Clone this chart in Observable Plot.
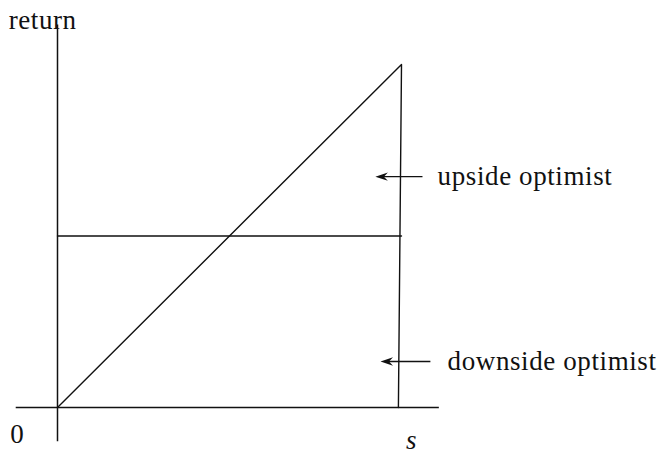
<!DOCTYPE html>
<html>
<head>
<meta charset="utf-8">
<script src="https://cdn.jsdelivr.net/npm/d3@7"></script>
<script src="https://cdn.jsdelivr.net/npm/@observablehq/plot@0.6"></script>
<style>
  html, body { margin: 0; padding: 0; background: #fff; }
  svg text { letter-spacing: 0.6px; }
</style>
</head>
<body>
<div id="chart"></div>
<script>
// Axis extents (data units: s horizontally, return vertically)
const axisS = [-0.12, 1.11];
const axisReturn = [-0.1, 1.115];

// Risky payoff: rises with s, then drops to zero
const riskyS = [0, 1, 0.991];
const riskyReturn = [0, 1, 0];

// Safe payoff: flat
const safeS = [0, 1];
const safeReturn = [0.5, 0.5];

// Annotations
const labels = ["upside optimist", "downside optimist"];
const labelS = [1.105, 1.134];
const arrowFromS = [1.061, 1.084];
const arrowToS = [0.924, 0.939];
const arrowReturn = [0.673, 0.134];

// Axis labels
const axisLabels = ["return", "0", "s"];
const axisLabelS = [-0.142, -0.137, 1.029];
const axisLabelReturn = [1.128, -0.079, -0.096];
const axisLabelAnchor = ["start", "start", "middle"];
const axisLabelStyle = ["normal", "normal", "italic"];

const risky = riskyS.map((s, i) => ({s, r: riskyReturn[i]}));
const safe = safeS.map((s, i) => ({s, r: safeReturn[i]}));
const ann = labels.map((t, i) => ({t, s: labelS[i], s1: arrowFromS[i], s2: arrowToS[i], r: arrowReturn[i]}));
const axl = axisLabels.map((t, i) => ({t, s: axisLabelS[i], r: axisLabelReturn[i], a: axisLabelAnchor[i], st: axisLabelStyle[i]}));

const head = {
  draw(ctx) {
    ctx.moveTo(0, 0);
    ctx.lineTo(12.5, -4.2);
    ctx.lineTo(8.5, 0);
    ctx.lineTo(12.5, 4.2);
    ctx.closePath();
  }
};

const font = "'Liberation Serif', 'DejaVu Serif', serif";

const chart = Plot.plot({
  width: 663,
  height: 459,
  margin: 0,
  x: {domain: [0, 1], range: [57, 401], axis: null},
  y: {domain: [0, 1], range: [407, 64], axis: null},
  marks: [
    Plot.ruleY([0], {x1: axisS[0], x2: axisS[1], stroke: "#111", strokeWidth: 1.5}),
    Plot.ruleX([0], {y1: axisReturn[0], y2: axisReturn[1], stroke: "#111", strokeWidth: 1.5}),
    Plot.line(risky, {x: "s", y: "r", stroke: "#111", strokeWidth: 1.4}),
    Plot.line(safe, {x: "s", y: "r", stroke: "#111", strokeWidth: 1.4}),
    Plot.link(ann, {x1: "s1", x2: d => d.s2 + 0.02, y1: "r", y2: "r", stroke: "#111", strokeWidth: 1.4}),
    Plot.dot(ann, {x: "s2", y: "r", symbol: head, fill: "#111", stroke: "none", r: 4}),
    Plot.text(ann, {x: "s", y: "r", text: "t", textAnchor: "start", fontFamily: font, fontSize: 27, fill: "#111"}),
    ...axl.map(d => Plot.text([d], {x: "s", y: "r", text: "t", textAnchor: d.a, fontStyle: d.st, fontFamily: font, fontSize: 27, fill: "#111"}))
  ]
});
document.getElementById("chart").appendChild(chart);
</script>
</body>
</html>
